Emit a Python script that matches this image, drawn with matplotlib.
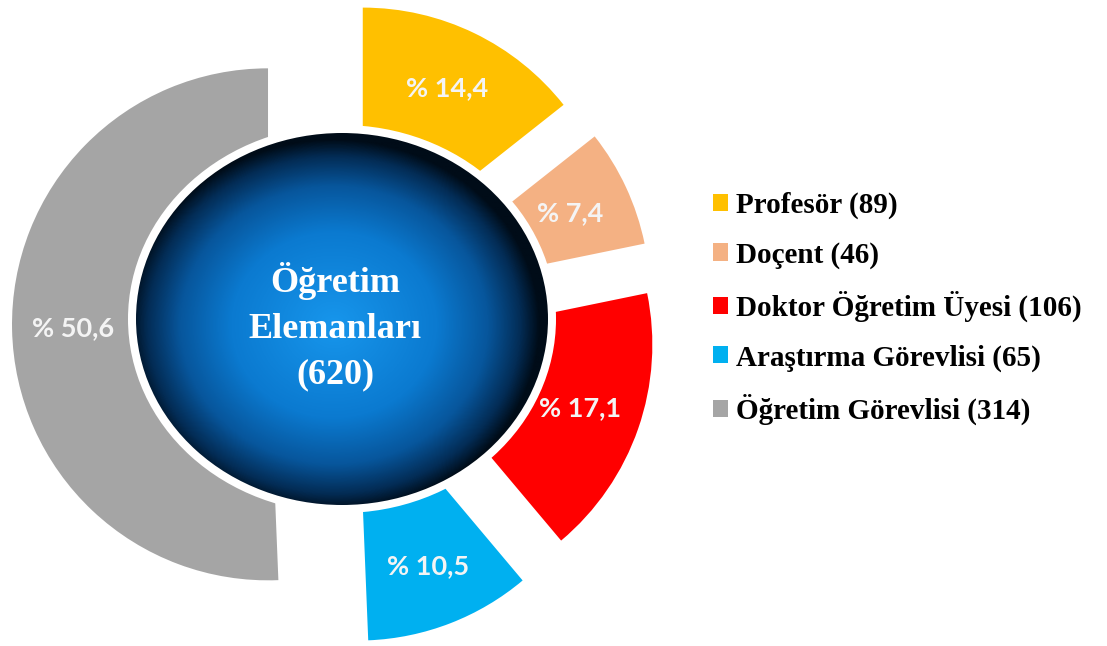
import numpy as np
import matplotlib
matplotlib.use("Agg")
import matplotlib.pyplot as plt
from matplotlib.patches import Ellipse
from matplotlib.colors import LinearSegmentedColormap

# data
names = ["Profesör", "Doçent", "Doktor Öğretim Üyesi", "Araştırma Görevlisi", "Öğretim Görevlisi"]
counts = [89, 46, 106, 65, 314]
colors = ["#FFC000", "#F4B183", "#FF0000", "#00B0F0", "#A5A5A5"]
center_title = "Öğretim\nElemanları"
total = sum(counts)

W, H = 1107, 646
fig = plt.figure(figsize=(W / 100, H / 100), dpi=100)
ax = fig.add_axes([0, 0, 1, 1])

# pie in pixel-like coords (y up); explode is in data units here
pie_c = (334, H - 323)
R = 256
wedges, _, pcts = ax.pie(
    counts, colors=colors, startangle=90, counterclock=False,
    radius=R, center=pie_c, explode=[66] * len(counts),
    autopct=lambda p: ("% " + f"{p:.1f}").replace(".", ","),
    pctdistance=0.76,
    wedgeprops=dict(linewidth=0),
    textprops=dict(color="#f4f4f4", fontsize=19.5, fontweight="bold", family="Lato"),
)
for t in pcts:
    t.set_zorder(6)

# center disk with white ring and radial gradient
dc = (342, H - 319)
dw, dh = 412, 372
ring = Ellipse(dc, dw + 16, dh + 16, facecolor="white", edgecolor="none", zorder=3)
ax.add_patch(ring)
disk = Ellipse(dc, dw, dh, facecolor="none", edgecolor="none", zorder=4)
ax.add_patch(disk)

cmap = LinearSegmentedColormap.from_list("glow", [
    (0.0, "#1796ec"), (0.5, "#0b7ad0"), (0.75, "#07569c"),
    (0.91, "#032c55"), (1.0, "#000c18")])
gx = np.linspace(dc[0] - dw / 2, dc[0] + dw / 2, 400)
gy = np.linspace(dc[1] - dh / 2, dc[1] + dh / 2, 400)
GX, GY = np.meshgrid(gx, gy)
rr = np.sqrt(((GX - dc[0] + 8) / (dw / 2)) ** 2 + ((GY - dc[1] + 6) / (dh / 2)) ** 2)
img = ax.imshow(np.clip(rr, 0, 1), cmap=cmap, origin="lower",
                extent=(gx[0], gx[-1], gy[0], gy[-1]), zorder=4, vmin=0, vmax=1)
img.set_clip_path(disk)

ax.text(335, H - 327, f"{center_title}\n({total})", ha="center", va="center",
        color="white", fontsize=26, fontweight="bold", family="Liberation Serif",
        linespacing=1.5, zorder=7)

ax.set_xlim(0, W)
ax.set_ylim(0, H)
ax.set_aspect("auto")
ax.axis("off")

labels = [f"{n} ({c})" for n, c in zip(names, counts)]
fig.legend(wedges, labels, loc="center left", bbox_to_anchor=(713 / W, (H - 308.5) / H),
           frameon=False, borderpad=0, borderaxespad=0,
           prop=dict(family="Liberation Serif", weight="bold", size=21),
           handlelength=0.52, handleheight=0.52, handletextpad=0.26, labelspacing=0.76)

fig.savefig("out.png", dpi=100)
